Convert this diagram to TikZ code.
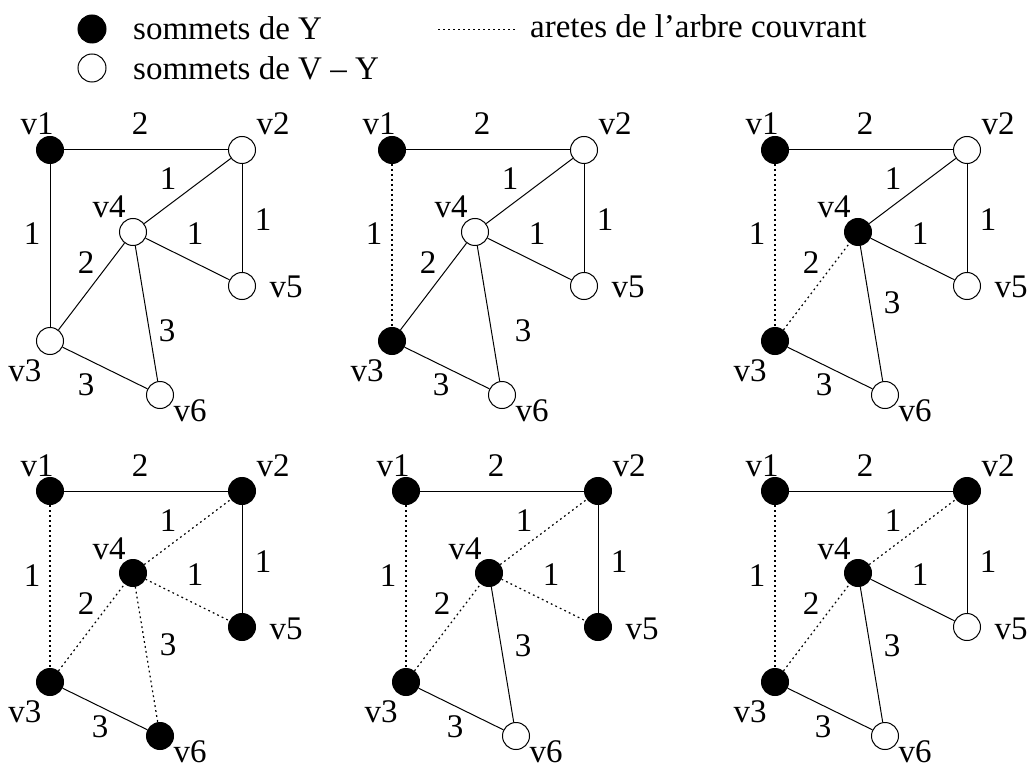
\documentclass[tikz,border=0pt]{standalone}
\usepackage{fontspec}
\setmainfont{Liberation Serif}
\usetikzlibrary{positioning}

\tikzset{
  sommet/.style={circle,draw,line width=1pt,minimum size=27pt,inner sep=0pt,fill=white},
  plein/.style={fill=black},
  etiq/.style={anchor=base,inner sep=0pt},
  simple/.style={line width=1pt},
  arbre/.style={line width=1.2pt,dash pattern=on 1.8pt off 3.2pt},
  s1/.style={},s2/.style={},s3/.style={},s4/.style={},s5/.style={},s6/.style={},
  e12/.style={simple},e13/.style={simple},e24/.style={simple},e25/.style={simple},
  e34/.style={simple},e45/.style={simple},e46/.style={simple},e36/.style={simple}
}

% un graphe : decalage, prefixe, styles, places des deux poids 3
\newcommand{\graphe}[5]{%
  \begin{scope}[shift={#1},#3]
    \node[sommet,s1] (#2v1) at (0,0) {};
    \node[sommet,s2] (#2v2) at (192,0) {};
    \node[sommet,s3] (#2v3) at (0,191) {};
    \node[sommet,s4] (#2v4) at (83,82) {};
    \node[sommet,s5] (#2v5) at (192,136) {};
    \node[sommet,s6] (#2v6) at (110,245) {};
    \draw[e12] (#2v1) -- (#2v2);
    \draw[e13] (#2v1) -- (#2v3);
    \draw[e24] (#2v4) -- (#2v2);
    \draw[e25] (#2v2) -- (#2v5);
    \draw[e45] (#2v4) -- (#2v5);
    \draw[e34] (#2v3) -- (#2v4);
    \draw[e46] (#2v4) -- (#2v6);
    \draw[e36] (#2v3) -- (#2v6);
    \node[etiq] (#2l1) at (-13,-15) {v1};
    \node[etiq] (#2l2) at (223,-15) {v2};
    \node[etiq] (#2l3) at (-25,231) {v3};
    \node[etiq] (#2l4) at (59,68) {v4};
    \node[etiq] (#2l5) at (236,148) {v5};
    \node[etiq] (#2l6) at (140,271) {v6};
    \node[etiq] (#2w12) at (90,-15) {2};
    \node[etiq] (#2w13) at (-18,95) {1};
    \node[etiq] (#2w24) at (118,40) {1};
    \node[etiq] (#2w25) at (213,81) {1};
    \node[etiq] (#2w45) at (145,94) {1};
    \node[etiq] (#2w34) at (36,123) {2};
    \node[etiq] (#2w46) at #4 {3};
    \node[etiq] (#2w36) at #5 {3};
  \end{scope}}

\begin{document}
\begin{tikzpicture}[x=1pt,y=-1pt,font=\fontsize{33}{39}\selectfont]
  \useasboundingbox (0,0) rectangle (1031,770);
  % legende
  \node[sommet,plein,minimum size=28pt] (legY) at (92,29) {};
  \node[sommet,minimum size=28pt] (legVY) at (92,68) {};
  \node[anchor=base west,inner sep=0pt] (txtY) at (133,40) {sommets de Y};
  \node[anchor=base west,inner sep=0pt] (txtVY) at (133,80) {sommets de V – Y};
  \coordinate (arbreA) at (438,30);
  \coordinate (arbreB) at (515,30);
  \draw[arbre,line width=1pt] (arbreA) -- (arbreB);
  \node[anchor=base west,inner sep=0pt] (txtArbre) at (530,38) {aretes de l’arbre couvrant};
  % les six etapes
  \graphe{(50,150)}{a}{s1/.style=plein}{(117,191)}{(36,245)}
  \graphe{(392,150)}{b}{s1/.style=plein,s3/.style=plein,e13/.style=arbre}{(131,191)}{(49,245)}
  \graphe{(775,150)}{c}{s1/.style=plein,s3/.style=plein,s4/.style=plein,
    e13/.style=arbre,e34/.style=arbre}{(117,163)}{(49,245)}
  \graphe{(50,491)}{d}{s1/.style=plein,s2/.style=plein,s3/.style=plein,s4/.style=plein,
    s5/.style=plein,s6/.style=plein,e13/.style=arbre,e34/.style=arbre,
    e24/.style=arbre,e45/.style=arbre,e46/.style=arbre}{(118,164)}{(50,246)}
  \graphe{(406,491)}{e}{s1/.style=plein,s2/.style=plein,s3/.style=plein,s4/.style=plein,
    s5/.style=plein,e13/.style=arbre,e34/.style=arbre,
    e24/.style=arbre,e45/.style=arbre}{(117,165)}{(49,246)}
  \graphe{(775,491)}{f}{s1/.style=plein,s2/.style=plein,s3/.style=plein,s4/.style=plein,
    e13/.style=arbre,e34/.style=arbre,e24/.style=arbre}{(117,165)}{(48,246)}
\end{tikzpicture}
\end{document}
